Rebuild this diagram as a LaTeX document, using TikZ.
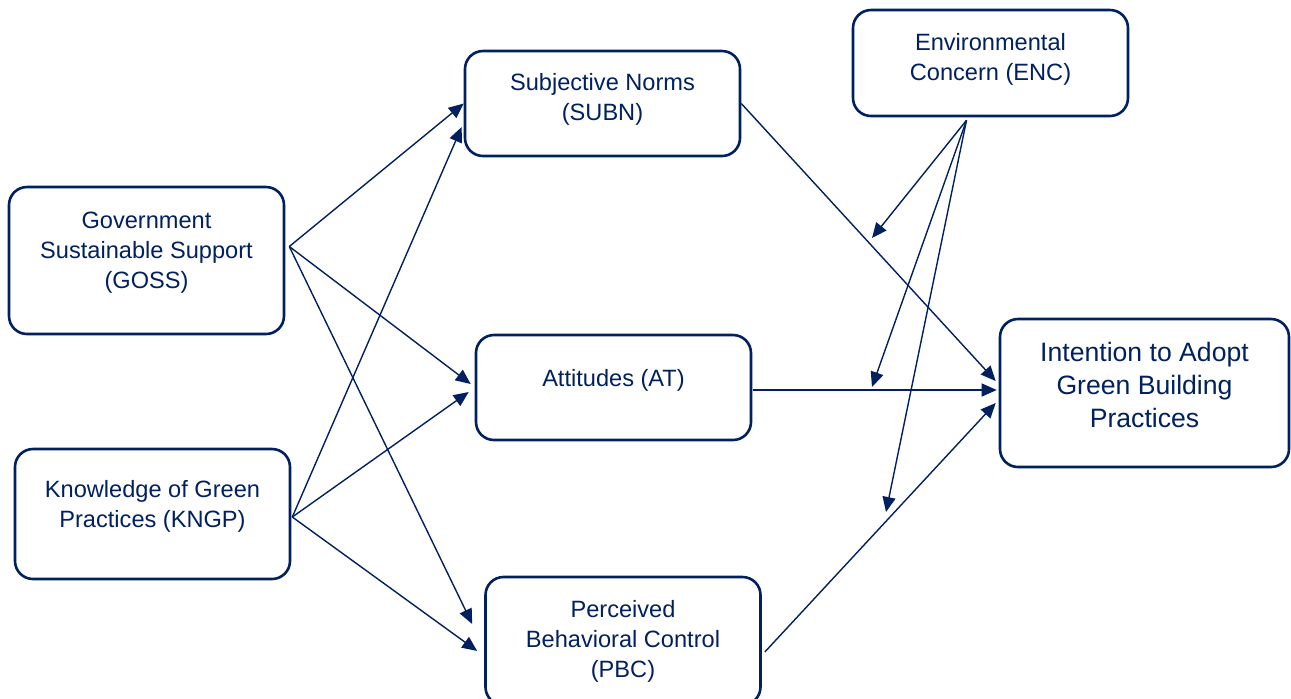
\documentclass[tikz,border=0pt]{standalone}
\usepackage{fontspec}
\setmainfont{Liberation Sans}
\usepackage{tikz}
\usetikzlibrary{shapes,arrows.meta,calc}
\usepackage{xcolor}
\definecolor{navy}{HTML}{002060}
\tikzstyle{block} = [rectangle, draw=navy, line width=1.3pt, text=navy, rounded corners=9pt, minimum width=137.5pt, align=center, inner sep=0pt, font=\fontsize{11.8}{15}\selectfont]
\tikzstyle{bigblock} = [block, minimum width=144.5pt, font=\fontsize{13.3}{16.5}\selectfont]
\tikzstyle{line} = [draw=navy, line width=0.7pt, -{Triangle[length=7.5pt, width=6.5pt]}]

\begin{document}
\begin{tikzpicture}[x=0.5pt, y=-0.5pt]
		\useasboundingbox (0,0) rectangle (1291,698);
		% Place nodes
		\node [block, minimum height=73.5pt, text depth=10.5pt] (goss) at (146.5,260.5) {Government\\Sustainable Support\\(GOSS)};
		\node [block, minimum height=65pt, text depth=10.5pt] (kngp) at (152.5,514) {Knowledge of Green\\Practices (KNGP)};
		\node [block, minimum height=52.5pt, text depth=7pt] (subn) at (602.5,103.5) {Subjective Norms\\(SUBN)};
		\node [block, minimum height=52.5pt, text depth=9.5pt] (at) at (613.5,387.5) {Attitudes (AT)};
		\node [block, minimum height=64pt] (pbc) at (623,641) {Perceived\\Behavioral Control\\(PBC)};
		\node [block, minimum height=53pt, text depth=6.5pt] (enc) at (990.5,63) {Environmental\\Concern (ENC)};
		\node [bigblock, minimum height=74pt, text depth=8.5pt] (iagbp) at (1144.5,393) {Intention to Adopt\\Green Building\\Practices};
		
		% Points for the moderator arrows
		\coordinate (gossout) at ($(goss.east)+(4,-14)$);
		\coordinate (kngpout) at ($(kngp.east)+(1,3)$);
		\coordinate (encout) at ($(enc.south)+(-24,3)$);
		\coordinate (modsubn) at (872,238);
		\coordinate (modat) at (872,387);
		\coordinate (modpbc) at (886,512);
		
		% Draw edges
		\path [line] (gossout) -- (subn.west);
		\path [line] (gossout) -- ($(at.west)+(-4,-3.5)$);
		\path [line] (gossout) -- ($(pbc.west)+(-12,-17)$);
		
		\path [line] (kngpout) -- ($(subn.west)+(-2,23.5)$);
		\path [line] (kngpout) -- ($(at.west)+(-6,4.5)$);
		\path [line] (kngpout) -- ($(pbc.west)+(-7,10)$);
		
		\path [line] (subn.east) -- ($(iagbp.west)+(-3,-12)$);
		\path [line] ($(at.east)+(1,2.5)$) -- ($(iagbp.west)+(-2,-3)$);
		\path [line] ($(pbc.east)+(3,11)$) -- ($(iagbp.west)+(-3,10)$);
		
		\path [line] (encout) -- (modsubn);
		\path [line] (encout) -- (modat);
		\path [line] (encout) -- (modpbc);
	\end{tikzpicture}
\end{document}
